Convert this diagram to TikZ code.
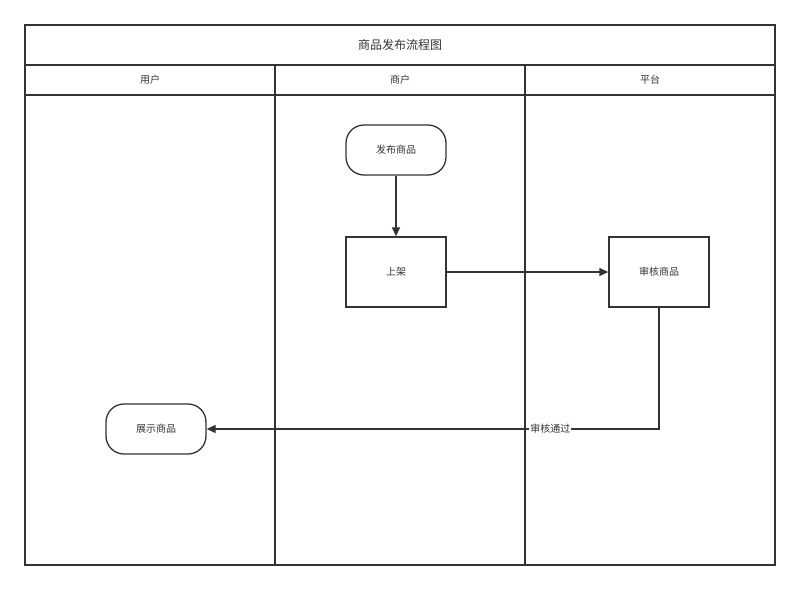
\documentclass[tikz,border=0pt]{standalone}
\usepackage{fontspec}
\newfontfamily\cjk{Noto Sans CJK SC}
\usetikzlibrary{arrows.meta,positioning}
\definecolor{ink}{HTML}{333333}
\tikzset{
  lane/.style={draw=ink,line width=1.3pt},
  proc/.style={draw=ink,line width=1.3pt,minimum width=100pt,minimum height=70pt,font=\cjk\fontsize{10}{12}\selectfont,text=ink},
  term/.style={draw=ink,line width=1.3pt,rounded corners=18pt,minimum width=100pt,minimum height=50pt,font=\cjk\fontsize{10}{12}\selectfont,text=ink},
  flow/.style={draw=ink,line width=1.3pt,-{Triangle[length=9pt,width=8pt]}}
}
\begin{document}
\begin{tikzpicture}[x=1pt,y=-1pt]
\useasboundingbox (0,0) rectangle (800,590);
% pool and lanes
\draw[lane] (25,25) rectangle (775,565);
\draw[lane] (25,65) -- (775,65);
\draw[lane] (25,95) -- (775,95);
\draw[lane] (275,65) -- (275,565);
\draw[lane] (525,65) -- (525,565);
\node[font=\cjk\fontsize{12}{14}\selectfont,text=ink] (title) at (400,45) {商品发布流程图};
\node[font=\cjk\fontsize{10}{12}\selectfont,text=ink] (user) at (150,80) {用户};
\node[font=\cjk\fontsize{10}{12}\selectfont,text=ink] (shop) at (400,80) {商户};
\node[font=\cjk\fontsize{10}{12}\selectfont,text=ink] (plat) at (650,80) {平台};

\node[term] (publish) at (396,150) {发布商品};
\node[proc] (shelf)   at (396,272) {上架};
\node[proc] (review)  at (659,272) {审核商品};
\node[term] (show)    at (156,429) {展示商品};

\draw[flow] (publish) -- (shelf);
\draw[flow] (shelf) -- (review);
\draw[flow] (review.south) |- (show.east)
  node[pos=0.62,fill=white,inner sep=1pt,font=\cjk\fontsize{10}{12}\selectfont,text=ink] {审核通过};
\end{tikzpicture}
\end{document}
